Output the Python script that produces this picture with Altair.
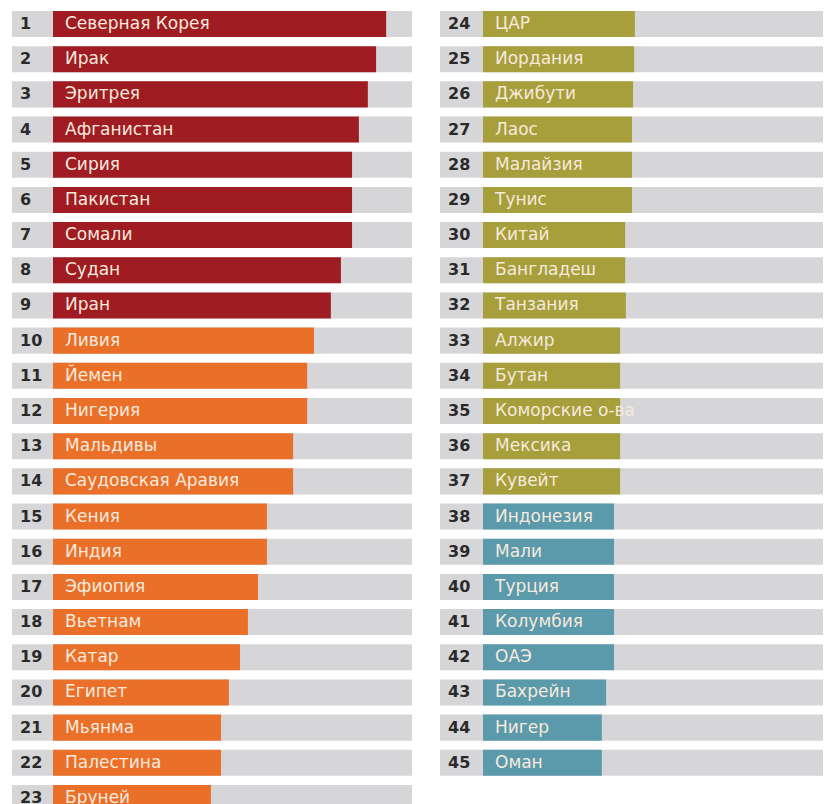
import altair as alt
import pandas as pd

ranks = list(range(1, 46))
countries = [
    "Северная Корея", "Ирак", "Эритрея", "Афганистан", "Сирия", "Пакистан",
    "Сомали", "Судан", "Иран", "Ливия", "Йемен", "Нигерия", "Мальдивы",
    "Саудовская Аравия", "Кения", "Индия", "Эфиопия", "Вьетнам", "Катар",
    "Египет", "Мьянма", "Палестина", "Бруней", "ЦАР", "Иордания", "Джибути",
    "Лаос", "Малайзия", "Тунис", "Китай", "Бангладеш", "Танзания", "Алжир",
    "Бутан", "Коморские о-ва", "Мексика", "Кувейт", "Индонезия", "Мали",
    "Турция", "Колумбия", "ОАЭ", "Бахрейн", "Нигер", "Оман",
]
scores = [
    92.8, 90.0, 87.7, 85.2, 83.3, 83.3, 83.3, 80.2, 77.4, 72.7, 70.8, 70.8,
    66.9, 66.9, 59.6, 59.6, 57.1, 54.3, 52.1, 49.0, 46.8, 46.8, 44.0,
    42.3, 42.1, 41.8, 41.5, 41.5, 41.5, 39.6, 39.6, 39.8, 38.2, 38.2, 38.2,
    38.2, 38.2, 36.5, 36.5, 36.5, 36.5, 36.5, 34.3, 33.1, 33.1,
]
tiers = ["t1"] * 9 + ["t2"] * 14 + ["t3"] * 14 + ["t4"] * 8
tier_domain = ["t1", "t2", "t3", "t4"]
tier_colors = ["#9e1c22", "#ea7029", "#a69f3b", "#5b9aab"]

GRAY = "#d6d6d8"
ROWS = 23

df = pd.DataFrame({"rank": ranks, "country": countries, "score": scores, "tier": tiers})
df["slot"] = [(r - 1) if r <= ROWS else (r - ROWS - 1) for r in ranks]
df["panel"] = ["L" if r <= ROWS else "R" for r in ranks]
df["track"] = 100
df["cell"] = 1

H = 800
FULL_W = 359  # width of a track of 100 points
yenc = alt.Y("slot:O", scale=alt.Scale(domain=list(range(ROWS)), paddingInner=0.26, paddingOuter=0), axis=None)
FONT = "DejaVu Sans"


def panel(sub, rank_w, bar_w):
    base = alt.Chart(sub)
    xr = alt.X("cell:Q", scale=alt.Scale(domain=[0, 1], nice=False), axis=None)
    rank_bg = base.mark_bar(color=GRAY).encode(y=yenc, x=xr)
    rank_txt = base.mark_text(align="left", baseline="middle", dx=8, font=FONT,
                              fontSize=16, fontWeight="bold", color="#2a2a2a").encode(
        y=yenc, x=alt.datum(0), text="rank:N")
    rank_col = alt.layer(rank_bg, rank_txt).properties(width=rank_w, height=H)

    xs = alt.Scale(domain=[0, 100 * bar_w / FULL_W], nice=False)
    track = base.mark_bar(color=GRAY, clip=True).encode(y=yenc, x=alt.X("track:Q", scale=xs, axis=None))
    bars = base.mark_bar().encode(
        y=yenc,
        x=alt.X("score:Q", scale=xs, axis=None),
        color=alt.Color("tier:N", scale=alt.Scale(domain=tier_domain, range=tier_colors), legend=None),
    )
    labels = base.mark_text(align="left", baseline="middle", dx=12, font=FONT,
                            fontSize=17, color="#f7e9dd").encode(
        y=yenc, x=alt.datum(0), text="country:N")
    bar_col = alt.layer(track, bars, labels).properties(width=bar_w, height=H)
    return alt.hconcat(rank_col, bar_col, spacing=0)


left = panel(df[df.panel == "L"], 41, FULL_W)
right = panel(df[df.panel == "R"], 43, 340)

chart = alt.hconcat(left, right, spacing=28).properties(
    padding={"left": 4, "top": 2, "right": 0, "bottom": 0},
    background="white",
).configure_view(stroke=None)

chart.save("out.html", embed_options={"renderer": "svg", "actions": False})
